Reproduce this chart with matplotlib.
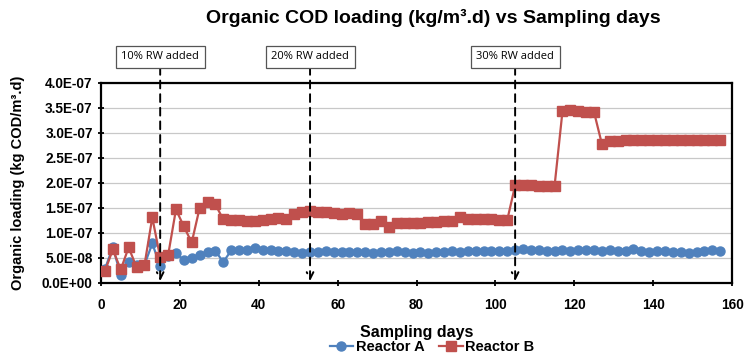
import matplotlib
matplotlib.use("Agg")
import matplotlib.pyplot as plt
from matplotlib.ticker import FuncFormatter, MultipleLocator

days = list(range(1, 158, 2))

reactor_a = [2.8e-8, 7.2e-8, 1.5e-8, 4.2e-8, 3.5e-8, 3.6e-8, 7.9e-8, 3.4e-8, 5.4e-8, 6.0e-8,
             4.5e-8, 4.9e-8, 5.5e-8, 6.2e-8, 6.4e-8, 4.2e-8, 6.5e-8, 6.5e-8, 6.5e-8, 6.9e-8,
             6.6e-8, 6.5e-8, 6.3e-8, 6.4e-8, 6.2e-8, 6.0e-8, 6.2e-8, 6.2e-8, 6.3e-8, 6.1e-8,
             6.2e-8, 6.2e-8, 6.1e-8, 6.1e-8, 6.0e-8, 6.1e-8, 6.2e-8, 6.3e-8, 6.2e-8, 6.0e-8,
             6.1e-8, 6.0e-8, 6.1e-8, 6.2e-8, 6.3e-8, 6.2e-8, 6.3e-8, 6.4e-8, 6.3e-8, 6.3e-8,
             6.4e-8, 6.4e-8, 6.6e-8, 6.7e-8, 6.6e-8, 6.5e-8, 6.4e-8, 6.4e-8, 6.5e-8, 6.4e-8,
             6.5e-8, 6.5e-8, 6.5e-8, 6.4e-8, 6.5e-8, 6.4e-8, 6.4e-8, 6.8e-8, 6.3e-8, 6.2e-8,
             6.3e-8, 6.3e-8, 6.2e-8, 6.2e-8, 6.0e-8, 6.2e-8, 6.4e-8, 6.5e-8, 6.3e-8]

reactor_b = [2.4e-8, 6.7e-8, 2.7e-8, 7.1e-8, 3.2e-8, 3.5e-8, 1.31e-7, 5.1e-8, 5.5e-8, 1.47e-7,
             1.13e-7, 8.1e-8, 1.50e-7, 1.61e-7, 1.57e-7, 1.27e-7, 1.25e-7, 1.25e-7, 1.24e-7, 1.24e-7,
             1.25e-7, 1.27e-7, 1.30e-7, 1.27e-7, 1.37e-7, 1.42e-7, 1.43e-7, 1.42e-7, 1.41e-7, 1.40e-7,
             1.38e-7, 1.39e-7, 1.37e-7, 1.17e-7, 1.18e-7, 1.23e-7, 1.12e-7, 1.20e-7, 1.20e-7, 1.20e-7,
             1.19e-7, 1.21e-7, 1.21e-7, 1.23e-7, 1.24e-7, 1.32e-7, 1.28e-7, 1.27e-7, 1.27e-7, 1.27e-7,
             1.26e-7, 1.26e-7, 1.95e-7, 1.95e-7, 1.95e-7, 1.94e-7, 1.94e-7, 1.94e-7, 3.43e-7, 3.45e-7,
             3.43e-7, 3.42e-7, 3.42e-7, 2.78e-7, 2.83e-7, 2.84e-7, 2.85e-7, 2.85e-7, 2.85e-7, 2.85e-7,
             2.85e-7, 2.85e-7, 2.85e-7, 2.85e-7, 2.85e-7, 2.85e-7, 2.85e-7, 2.85e-7, 2.85e-7]

event_days = [15, 53, 105]
event_labels = ["10% RW added", "20% RW added", "30% RW added"]

title = "Organic COD loading (kg/m³.d) vs Sampling days"
xlabel = "Sampling days"
ylabel = "Organic loading (kg COD/m³.d)"

plt.rcParams['font.family'] = ['Liberation Sans', 'DejaVu Sans']

fig = plt.figure(figsize=(7.45, 3.58), dpi=100)
ax = fig.add_axes([0.1356, 0.2095, 0.847, 0.5587])

blue = '#4F81BD'
red = '#C0504D'
ax.plot(days, reactor_a, color=blue, marker='o', markersize=6.5, linewidth=1.6,
        label='Reactor A', zorder=3)
ax.plot(days, reactor_b, color=red, marker='s', markersize=6.5, linewidth=1.6,
        label='Reactor B', zorder=4)

ax.set_xlim(0, 160)
ax.set_ylim(0, 4.0e-7)
ax.xaxis.set_major_locator(MultipleLocator(20))
ax.yaxis.set_major_locator(MultipleLocator(5e-8))

def fmt(v, pos):
    if abs(v) < 1e-20:
        return "0.0E+00"
    return "%.1E" % v

ax.yaxis.set_major_formatter(FuncFormatter(fmt))
ax.grid(axis='y', color='#c8c8c8', linewidth=0.9)
ax.set_axisbelow(True)
for sp in ax.spines.values():
    sp.set_linewidth(1.6)
    sp.set_color('black')
ax.tick_params(axis='both', which='major', labelsize=9.8, width=1.3, length=4, direction='inout')
for lab in ax.get_xticklabels() + ax.get_yticklabels():
    lab.set_fontweight('bold')
ax.tick_params(axis='x', pad=9)
ax.tick_params(axis='y', pad=4)

ax.set_xlabel(xlabel, fontsize=11.5, fontweight='bold', labelpad=9)
ax.set_ylabel(ylabel, fontsize=10.5, fontweight='bold', labelpad=12)
fig.text(0.582, 0.95, title, fontsize=14, fontweight='bold', ha='center', va='center')

for d, lab in zip(event_days, event_labels):
    ax.annotate('', xy=(d, 0.04e-7), xytext=(d, 4.32e-7),
                arrowprops=dict(arrowstyle='->', linestyle=(0, (4, 3)), color='black',
                                linewidth=1.4, mutation_scale=12, shrinkA=0, shrinkB=0),
                annotation_clip=False, zorder=6)
    ax.text(d, 4.52e-7, lab, ha='center', va='center', fontsize=8, family=['Open Sans', 'DejaVu Sans'],
            bbox=dict(boxstyle='square,pad=0.5', facecolor='white', edgecolor='#555555', linewidth=0.9),
            clip_on=False, zorder=7)

leg = fig.legend(loc='center', bbox_to_anchor=(0.58, 0.03), ncol=2, frameon=False,
                 prop={'weight': 'bold', 'size': 10.5}, handlelength=1.6, columnspacing=1.0,
                 handletextpad=0.2, borderpad=0.1, markerscale=1.0)

fig.savefig('out.png', dpi=100)
